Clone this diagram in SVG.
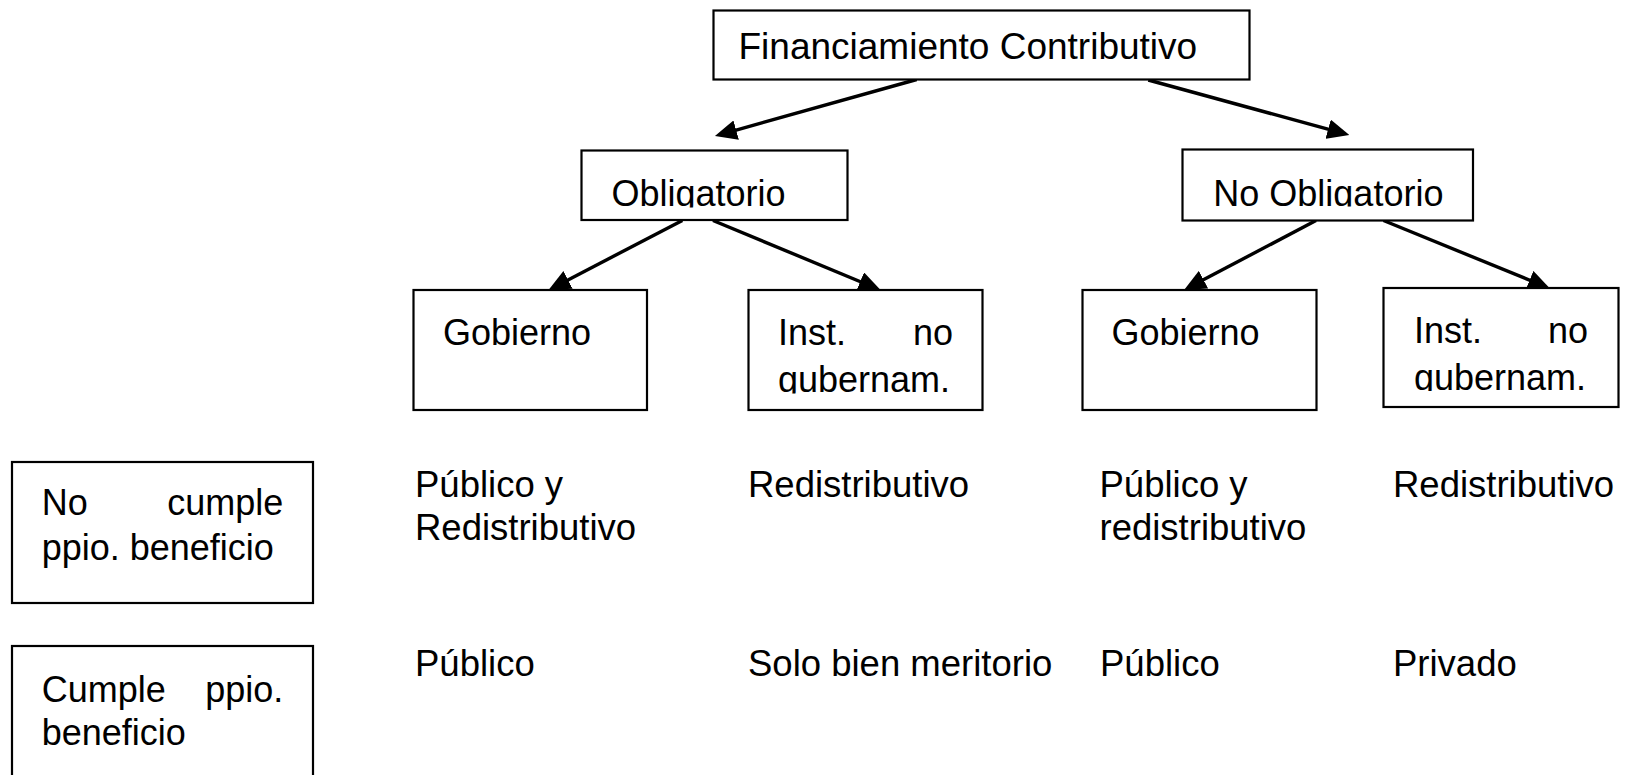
<svg xmlns="http://www.w3.org/2000/svg" width="1631" height="775" viewBox="0 0 1631 775">
<style>
.box{fill:#fff;stroke:#000;stroke-width:2.2}
.t{font-family:"Liberation Sans",Arial,sans-serif;font-size:36.5px;fill:#000}
.bt{font-family:"Liberation Sans",Arial,sans-serif;font-size:36px;fill:#000}
.conn line{stroke:#000;stroke-width:3.4;fill:none;marker-end:url(#ah)}
</style>
<defs>
<marker id="ah" viewBox="0 0 22 20" refX="12" refY="10" markerWidth="22" markerHeight="20" markerUnits="userSpaceOnUse" orient="auto">
<path d="M0,0 L22,10 L0,20 z" fill="#000"/>
</marker>
<clipPath id="cOb"><rect x="582" y="151" width="265" height="56.5"/></clipPath>
<clipPath id="cNo"><rect x="1183" y="150" width="289" height="56.5"/></clipPath>
<clipPath id="cI1"><rect x="749" y="291" width="233" height="102.5"/></clipPath>
<clipPath id="cI2"><rect x="1384" y="289" width="234" height="102"/></clipPath>
</defs>
<rect width="1631" height="775" fill="#fff"/>

<g class="conn" id="connectors">
<line x1="916.7" y1="79.5" x2="724.6" y2="133.3"/>
<line x1="1148.3" y1="80" x2="1339.7" y2="132.4"/>
<line x1="682.3" y1="220.5" x2="557.4" y2="285.4"/>
<line x1="713" y1="220.5" x2="871.3" y2="286.2"/>
<line x1="1316" y1="220.5" x2="1192.9" y2="285.3"/>
<line x1="1383.5" y1="220.5" x2="1540.7" y2="284.7"/>
</g>

<g id="financiamiento">
<rect class="box" x="713.5" y="10.5" width="536" height="69"/>
<text class="bt" x="738.5" y="58.5" style="font-size:37px">Financiamiento Contributivo</text>
</g>
<g id="obligatorio">
<rect class="box" x="581.5" y="150.5" width="266" height="69.5"/>
<text class="bt" x="611.5" y="205.5" clip-path="url(#cOb)">Obligatorio</text>
</g>
<g id="no-obligatorio">
<rect class="box" x="1182.5" y="149.5" width="290.5" height="71"/>
<text class="bt" x="1213.3" y="205.5" clip-path="url(#cNo)">No Obligatorio</text>
</g>
<g id="gobierno-1">
<rect class="box" x="413.5" y="290" width="233.5" height="120"/>
<text class="bt" x="443" y="344.5">Gobierno</text>
</g>
<g id="inst-1">
<rect class="box" x="748.5" y="290" width="234" height="120"/>
<g clip-path="url(#cI1)">
<text class="bt" x="778" y="344.5">Inst.</text>
<text class="bt" x="953" y="344.5" text-anchor="end">no</text>
<text class="bt" x="778" y="392">gubernam.</text>
</g>
</g>
<g id="gobierno-2">
<rect class="box" x="1082.5" y="290" width="234" height="120"/>
<text class="bt" x="1111.5" y="344.5">Gobierno</text>
</g>
<g id="inst-2">
<rect class="box" x="1383.5" y="288" width="235" height="119"/>
<g clip-path="url(#cI2)">
<text class="bt" x="1414" y="342.5">Inst.</text>
<text class="bt" x="1588" y="342.5" text-anchor="end">no</text>
<text class="bt" x="1414" y="390">gubernam.</text>
</g>
</g>
<g id="no-cumple">
<rect class="box" x="12" y="462" width="301" height="141"/>
<text class="bt" x="41.7" y="515">No</text>
<text class="bt" x="283.3" y="515" text-anchor="end">cumple</text>
<text class="bt" x="41.7" y="560">ppio. beneficio</text>
</g>
<g id="cumple">
<rect class="box" x="12" y="646" width="301" height="150"/>
<text class="bt" x="41.7" y="701.5">Cumple</text>
<text class="bt" x="283.3" y="701.5" text-anchor="end">ppio.</text>
<text class="bt" x="41.7" y="745">beneficio</text>
</g>

<g id="labels">
<text class="t" x="415" y="497">Público y</text>
<text class="t" x="415" y="540">Redistributivo</text>
<text class="t" x="748" y="497">Redistributivo</text>
<text class="t" x="1099.5" y="497">Público y</text>
<text class="t" x="1099.5" y="540">redistributivo</text>
<text class="t" x="1393" y="497">Redistributivo</text>
<text class="t" x="415" y="676">Público</text>
<text class="t" x="748" y="676">Solo bien meritorio</text>
<text class="t" x="1100" y="676">Público</text>
<text class="t" x="1393" y="676">Privado</text>
</g>
</svg>
